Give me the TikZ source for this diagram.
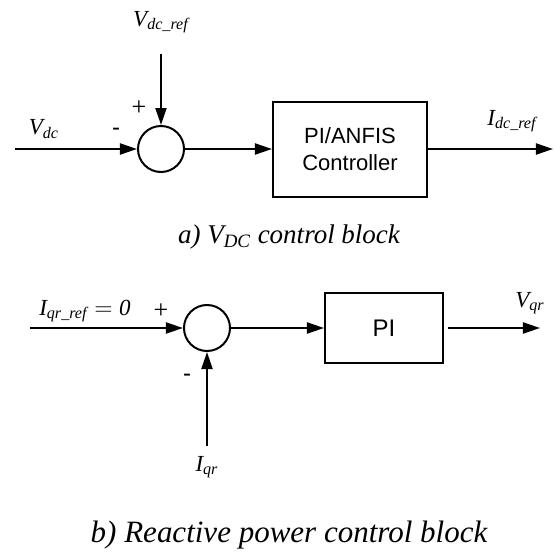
\documentclass[tikz,border=0pt]{standalone}
\usepackage{amsmath}
\usepackage{fontspec}
\setmainfont{Liberation Serif}
\setsansfont{Liberation Sans}
\usetikzlibrary{arrows.meta}

\begin{document}
\begin{tikzpicture}[x=0.5pt,y=-0.5pt,
  sumnode/.style={circle,draw,line width=1pt,minimum size=23pt,inner sep=0pt},
  blocknode/.style={draw,line width=1pt,align=center,inner sep=0pt,
    font=\sffamily\fontsize{11}{13.5}\selectfont},
  sig/.style={line width=1pt,-{Triangle[length=8.5pt,width=5.5pt]}},
  lbl/.style={font=\fontsize{11.5}{13}\selectfont},
  sgn/.style={font=\fontsize{13}{15}\selectfont},
  capt/.style={font=\itshape\fontsize{13.5}{15}\selectfont}]
\useasboundingbox (0,0) rectangle (554,552);

\node[sumnode] (sum1) at (161,149) {};
\node[blocknode,minimum width=77pt,minimum height=47.5pt] (ctrl) at (350,149) {PI/ANFIS\\Controller};
\coordinate (vdcin) at (15,149);
\coordinate (vrefin) at (161,54);
\coordinate (idcout) at (553,149);
\draw[sig] (vdcin) -- (sum1);
\draw[sig] (vrefin) -- (sum1);
\draw[sig] (sum1) -- (ctrl);
\draw[sig] (ctrl) -- (idcout);
\node[lbl] (vdc) at (44,129) {$\textit{V}_{\textit{dc}}$};
\node[lbl] (vref) at (161,22) {$\textit{V}_{\textit{dc\_ref}}$};
\node[lbl] (idc) at (512,121) {$\textit{I}_{\textit{dc\_ref}}$};
\node[sgn,font=\sffamily\fontsize{12}{14}\selectfont] (minus1) at (116,132) {-};
\node[sgn] (plus1) at (139,108) {+};
\node[capt] (capa) at (289,237) {a) $\textit{V}_{\textit{DC}}$ control block};

\node[sumnode] (sum2) at (207,328) {};
\node[blocknode,minimum width=59pt,minimum height=35pt,font=\sffamily\fontsize{12}{14}\selectfont] (pi) at (384,328) {PI};
\coordinate (iqrefin) at (30,328);
\coordinate (iqrin) at (207,446);
\coordinate (vqrout) at (540,328);
\draw[sig] (iqrefin) -- (sum2);
\draw[sig] (iqrin) -- (sum2);
\draw[sig] (sum2) -- (pi);
\draw[sig,shorten <=2pt] (pi) -- (vqrout);
\node[lbl] (iqref) at (85,311) {$\textit{I}_{\textit{qr\_ref}} = \textit{0}$};
\node[sgn] (plus2) at (161,311) {+};
\node[sgn,font=\sffamily\fontsize{12}{14}\selectfont] (minus2) at (187,378) {-};
\node[lbl] (iqr) at (207,467) {$\textit{I}_{\textit{qr}}$};
\node[lbl] (vqr) at (530,303) {$\textit{V}_{\textit{qr}}$};
\node[capt,font=\itshape\fontsize{15.5}{17}\selectfont] (capb) at (289,535) {b) Reactive power control block};
\end{tikzpicture}
\end{document}
